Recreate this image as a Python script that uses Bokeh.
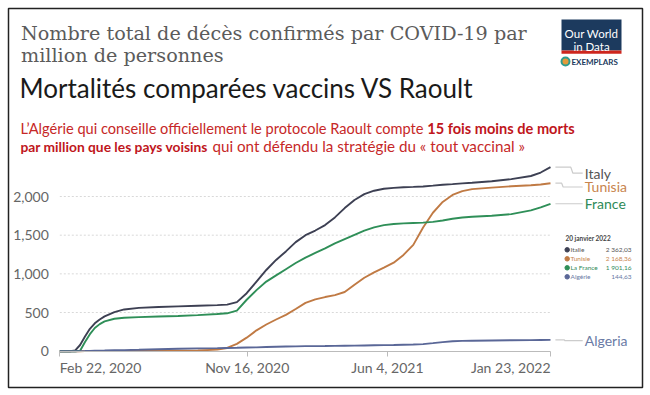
from datetime import timedelta
import pandas as pd
from bokeh.plotting import figure
from bokeh.models import (Range1d, DatetimeAxis, LinearAxis, FixedTicker,
                          NumeralTickFormatter, DatetimeTickFormatter)
from bokeh.core.properties import value
from bokeh.embed import file_html
from bokeh.resources import INLINE

# ---------------- data ----------------
dates = ["2020-02-22", "2020-03-08", "2020-03-15", "2020-03-22", "2020-03-29", "2020-04-05",
         "2020-04-12", "2020-04-19", "2020-04-26", "2020-05-10", "2020-05-24", "2020-06-14",
         "2020-07-12", "2020-08-09", "2020-09-06", "2020-10-04", "2020-10-18", "2020-11-01",
         "2020-11-15", "2020-11-29", "2020-12-13", "2020-12-27", "2021-01-10", "2021-01-24",
         "2021-02-07", "2021-02-21", "2021-03-07", "2021-03-21", "2021-04-04", "2021-04-18",
         "2021-05-02", "2021-05-16", "2021-05-30", "2021-06-13", "2021-06-27", "2021-07-11",
         "2021-07-25", "2021-08-08", "2021-08-22", "2021-09-05", "2021-09-19", "2021-10-03",
         "2021-10-31", "2021-11-28", "2021-12-26", "2022-01-09", "2022-01-23"]
italy = [0, 0, 10, 80, 190, 290, 360, 410, 450, 505, 540, 560, 572, 580, 588, 596, 602, 635,
         750, 900, 1050, 1180, 1290, 1410, 1500, 1560, 1630, 1730, 1850, 1955, 2030, 2075,
         2100, 2112, 2120, 2124, 2130, 2140, 2152, 2160, 2170, 2178, 2198, 2225, 2265, 2310, 2379]
tunisia = [0, 0, 0, 0, 1, 3, 4, 4, 4, 4, 4, 4, 5, 6, 10, 20, 42, 95, 175, 270, 345, 410, 470,
           545, 625, 670, 700, 725, 765, 860, 950, 1020, 1080, 1145, 1245, 1375, 1600, 1790,
           1930, 2020, 2070, 2095, 2115, 2132, 2145, 2155, 2172]
france = [0, 0, 0, 5, 120, 220, 300, 350, 385, 420, 432, 440, 448, 455, 467, 480, 490, 525,
          665, 790, 900, 980, 1060, 1140, 1210, 1270, 1330, 1395, 1450, 1505, 1560, 1600,
          1630, 1645, 1652, 1657, 1662, 1672, 1690, 1712, 1728, 1738, 1752, 1772, 1820, 1860, 1906]
algeria = [0, 0, 0, 1, 2, 4, 6, 8, 9, 12, 14, 18, 25, 32, 37, 40, 42, 44, 47, 50, 54, 58, 61,
           63, 65, 66, 67, 69, 71, 72, 74, 76, 78, 80, 83, 86, 92, 104, 118, 128, 133, 136,
           139, 141, 143, 145, 147]

series_names = ["Italy", "Tunisia", "France", "Algeria"]
y_ticks = [0, 500, 1000, 1500, 2000]
x_tick_dates = ["2020-02-22", "2020-11-16", "2021-06-04", "2022-01-23"]

legend_date = "20 janvier 2022"
legend_names = ["Italie", "Tunisie", "La France", "Algérie"]
legend_values = ["2 362,03", "2 168,36", "1 901,16", "144,63"]

title_1 = "Nombre total de décès confirmés par COVID-19 par"
title_2 = "million de personnes"
headline = "Mortalités comparées vaccins VS Raoult"
red_1a = "L’Algérie qui conseille officiellement le protocole Raoult compte"
red_1b = "15 fois moins de morts"
red_2a = "par million que les pays voisins"
red_2b = "qui ont défendu la stratégie du «  tout vaccinal »"

# ---------------- styles / layout ----------------
line_colors = ["#3d4053", "#c07a44", "#2f8f58", "#5a6797"]
label_colors = ["#555555", "#c8844d", "#2f8a58", "#6a7aa5"]
label_y = [2301, 2123, 1906, 138]        # label placement (layout)
RED = "#c62828"
RED_BOLD = "#c0161c"
FONT = "Lato"

W, H = 649, 394
T0 = pd.Timestamp(x_tick_dates[0])
T1 = pd.Timestamp(x_tick_dates[-1])
PX_PER_DAY = 0.70
X0_PX = 59.3
x_start = T0 - timedelta(days=X0_PX / PX_PER_DAY)
x_end = x_start + timedelta(days=W / PX_PER_DAY)
PX_PER_UNIT = 0.07735
Y0_PX = 350.7
y_start = -(H - Y0_PX) / PX_PER_UNIT
y_end = Y0_PX / PX_PER_UNIT


def ms(t):
    return (pd.Timestamp(t) - pd.Timestamp("1970-01-01")).total_seconds() * 1000.0


p = figure(width=W, height=H, x_axis_type=None, y_axis_type=None,
           x_range=Range1d(x_start, x_end), y_range=Range1d(y_start, y_end),
           output_backend="svg", toolbar_location=None, min_border=0)
p.extra_x_ranges = {"px": Range1d(0, W)}
p.extra_y_ranges = {"py": Range1d(H, 0)}
p.xgrid.visible = False
p.ygrid.visible = False
p.outline_line_color = None
p.background_fill_color = "white"
p.border_fill_color = "white"

# outer frame of the picture
p.quad(left=[8], right=[642], top=[8], bottom=[387], x_range_name="px", y_range_name="py",
       fill_color=None, line_color="#222222", line_width=1.5)

dts = pd.to_datetime(dates)
tick_ms = [ms(d) for d in x_tick_dates]

# grid lines
gx0 = [T0] * (len(y_ticks) - 1)
gx1 = [T1] * (len(y_ticks) - 1)
p.segment(x0=gx0, x1=gx1, y0=y_ticks[1:], y1=y_ticks[1:], line_color="#d9d9d9",
          line_width=1, line_dash="2 2")

# axes
xaxis = DatetimeAxis(fixed_location=0, ticker=FixedTicker(ticks=tick_ms),
                     formatter=DatetimeTickFormatter(days="%b %-d, %Y", months="%b %-d, %Y",
                                                     years="%b %-d, %Y"))
xaxis.bounds = (tick_ms[0], tick_ms[-1])
xaxis.axis_line_color = "#bbbbbb"
xaxis.major_tick_line_color = "#bbbbbb"
xaxis.major_tick_in = 0
xaxis.major_tick_out = 5
xaxis.minor_tick_line_color = None
xaxis.major_label_text_font = FONT
xaxis.major_label_text_font_size = "14px"
xaxis.major_label_text_color = "#666666"
xaxis.major_label_standoff = 3
xaxis.major_label_overrides = {tick_ms[0]: "", tick_ms[-1]: ""}
p.add_layout(xaxis, "below")

yaxis = LinearAxis(fixed_location=tick_ms[0], ticker=FixedTicker(ticks=y_ticks),
                   formatter=NumeralTickFormatter(format="0,0"))
yaxis.axis_line_color = None
yaxis.major_tick_line_color = None
yaxis.minor_tick_line_color = None
yaxis.major_label_text_font = FONT
yaxis.major_label_text_font_size = "14px"
yaxis.major_label_text_color = "#666666"
yaxis.major_label_standoff = 5
p.add_layout(yaxis, "left")

# end tick labels (left / right aligned like the reference)
p.text(x=[T0], y=[0], text=[T0.strftime("%b %-d, %Y")],
       text_font=value(FONT), text_font_size="14px", text_color="#666666",
       text_align="left", text_baseline="top", y_offset=8)
p.text(x=[T1], y=[0], text=[T1.strftime("%b %-d, %Y")],
       text_font=value(FONT), text_font_size="14px", text_color="#666666",
       text_align="right", text_baseline="top", y_offset=8)

# series
all_series = [italy, tunisia, france, algeria]
for vals, c in zip(all_series, line_colors):
    p.line(dts, vals, line_color=c, line_width=1.9)

# connectors + end labels
end = dts[-1]
xs, ys = [], []
bends = [(7, 29, 32), (7, 16, 18), (7, 20, 20), (7, 20, 20)]
for vals, ly, (a, b, c) in zip(all_series, label_y, bends):
    xs.append([end + timedelta(days=a), end + timedelta(days=b), end + timedelta(days=c),
               end + timedelta(days=46)])
    ys.append([vals[-1], vals[-1], ly, ly])
p.multi_line(xs, ys, line_color="#cccccc", line_width=1.2)
p.text(x=[end + timedelta(days=49)] * 4, y=label_y, text=series_names,
       text_color=label_colors, text_font=value(FONT), text_font_size="14px",
       text_baseline="middle", text_align="left")

# small value legend
leg_rows = [249.3, 258.3, 267.3, 276.3]
p.text(x=[565], y=[237.7], text=[legend_date], x_range_name="px", y_range_name="py",
       text_font=value(FONT), text_font_size="6.5px", text_font_style="bold",
       text_color="#444444", text_baseline="middle")
p.scatter(x=[566.7] * 4, y=leg_rows, x_range_name="px", y_range_name="py",
          size=4.5, color=line_colors)
p.text(x=[570] * 4, y=leg_rows, text=legend_names, x_range_name="px", y_range_name="py",
       text_font=value(FONT), text_font_size="6.5px", text_color=label_colors,
       text_baseline="middle")
p.text(x=[631] * 4, y=leg_rows, text=legend_values, x_range_name="px", y_range_name="py",
       text_font=value(FONT), text_font_size="6.5px", text_color=label_colors,
       text_baseline="middle", text_align="right")

# titles
p.text(x=[20.5, 20.5], y=[33, 55], text=[title_1, title_2], x_range_name="px", y_range_name="py",
       text_font=value("DejaVu Serif"), text_font_size="19.2px", text_color="#5b5b5b",
       text_baseline="alphabetic")
p.text(x=[19], y=[87.5], text=[headline], x_range_name="px", y_range_name="py",
       text_font=value(FONT), text_font_size="26px", text_color="#1a1a1a",
       text_baseline="alphabetic")
p.text(x=[20], y=[128], text=[red_1a], x_range_name="px", y_range_name="py",
       text_font=value(FONT), text_font_size="14.6px", text_color=RED, text_baseline="alphabetic")
p.text(x=[426.7], y=[128], text=[red_1b], x_range_name="px", y_range_name="py",
       text_font=value(FONT), text_font_size="14.6px", text_font_style="bold", text_color=RED_BOLD,
       text_baseline="alphabetic")
p.text(x=[20], y=[145.5], text=[red_2a], x_range_name="px", y_range_name="py",
       text_font=value(FONT), text_font_size="13.8px", text_font_style="bold", text_color=RED_BOLD,
       text_baseline="alphabetic")
p.text(x=[212], y=[145.5], text=[red_2b], x_range_name="px", y_range_name="py",
       text_font=value(FONT), text_font_size="15.2px", text_color=RED, text_baseline="alphabetic")

# logo
p.quad(left=[561], right=[621], top=[19], bottom=[50], x_range_name="px", y_range_name="py",
       fill_color="#1c3a5e", line_color=None)
p.quad(left=[561], right=[621], top=[50], bottom=[53.3], x_range_name="px", y_range_name="py",
       fill_color="#ce261e", line_color=None)
p.text(x=[591, 591], y=[33, 45.5], text=["Our World", "in Data"], x_range_name="px",
       y_range_name="py", text_font=value(FONT), text_font_size="11.5px", text_color="white",
       text_align="center", text_baseline="alphabetic")
p.scatter(x=[565], y=[61], x_range_name="px", y_range_name="py", size=8,
          fill_color="#e39b3b", line_color="#2f9c8f", line_width=2)
p.text(x=[571], y=[61], text=["EXEMPLARS"], x_range_name="px", y_range_name="py",
       text_font=value(FONT), text_font_size="8px", text_font_style="bold", text_color="#1c3a5e",
       text_baseline="middle")

open("out.html", "w").write(file_html(p, INLINE))
